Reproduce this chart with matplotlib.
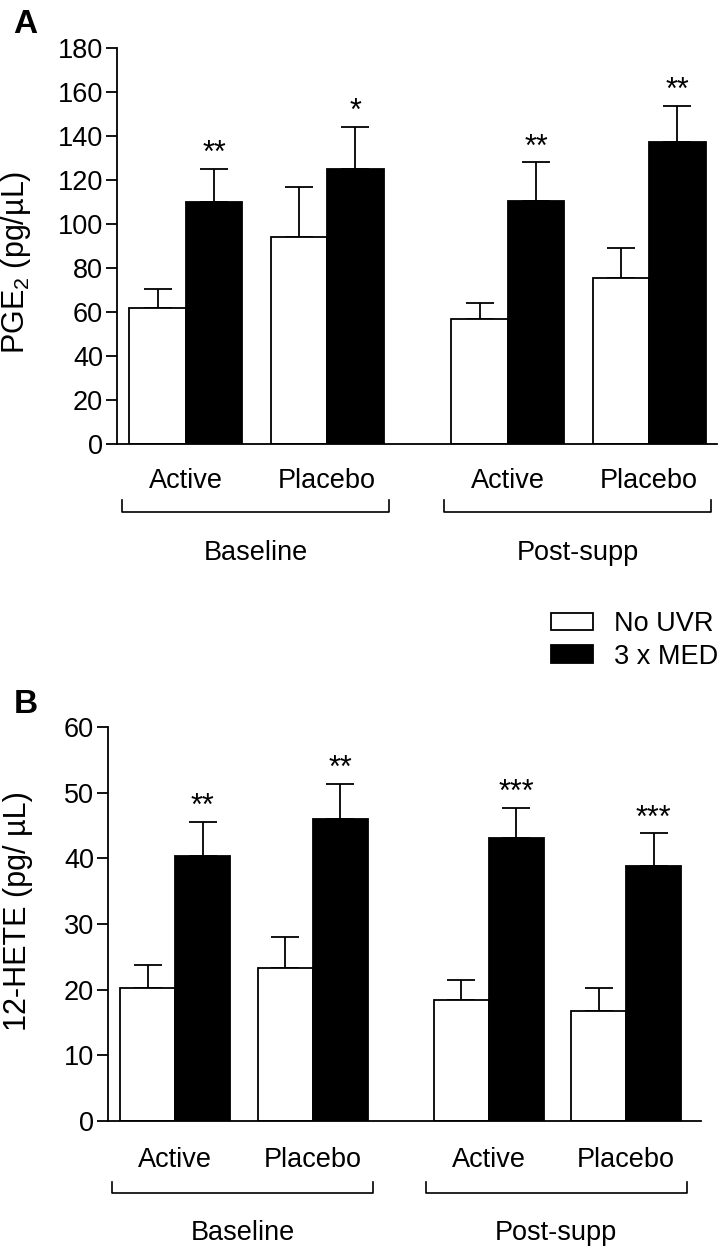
import matplotlib
matplotlib.use("Agg")
import matplotlib.pyplot as plt
import numpy as np
from matplotlib.patches import Patch

plt.rcParams['font.family'] = ['Liberation Sans', 'DejaVu Sans']
plt.rcParams['mathtext.fontset'] = 'custom'
plt.rcParams['mathtext.rm'] = 'Liberation Sans'
plt.rcParams['mathtext.it'] = 'Liberation Sans:italic'

# grupos
treatments = ['Active', 'Placebo', 'Active', 'Placebo']
periods = ['Baseline', 'Post-supp']
series_names = ['No UVR', '3 x MED']

# Panel A - PGE2 (pg/uL): medias y limite superior del error
pge2_no_uvr = [62, 94, 57, 75.5]
pge2_no_uvr_top = [70.5, 117, 64, 89]
pge2_med = [110, 125, 110.5, 137.5]
pge2_med_top = [125, 144, 128, 153.5]
pge2_stars = ['**', '*', '**', '**']

# Panel B - 12-HETE (pg/uL)
hete_no_uvr = [20.2, 23.3, 18.5, 16.7]
hete_no_uvr_top = [23.8, 28, 21.4, 20.2]
hete_med = [40.3, 46, 43.1, 38.9]
hete_med_top = [45.5, 51.3, 47.7, 43.8]
hete_stars = ['**', '**', '***', '***']

fs = 19.5
fig = plt.figure(figsize=(7.25, 12.5), dpi=100)
axA = fig.add_axes([117/725, 1-444/1250, 600/725, 396/1250])
axB = fig.add_axes([108/725, 1-1121/1250, 593/725, 394/1250])

centers = np.array([1.22, 3.72, 6.92, 9.42])
w = 1.0


def panel(ax, white, white_top, black, black_top, stars, ymax, ystep, ylabel, xmax,
          ylab_x, ylab_y, tyl, bty, pty):
    ax.bar(centers - w/2, white, w, color='white', edgecolor='black', linewidth=1.3, zorder=2)
    ax.bar(centers + w/2, black, w, color='black', edgecolor='black', linewidth=1.3, zorder=2)
    up_w = np.array(white_top) - np.array(white)
    up_b = np.array(black_top) - np.array(black)
    ax.errorbar(centers - w/2, white, yerr=[np.zeros(4), up_w], fmt='none',
                ecolor='black', elinewidth=1.3, capsize=10, capthick=1.3, zorder=1)
    ax.errorbar(centers + w/2, black, yerr=[np.zeros(4), up_b], fmt='none',
                ecolor='black', elinewidth=1.3, capsize=10, capthick=1.3, zorder=1)
    for x, t, s in zip(centers + w/2, black_top, stars):
        ax.annotate(s, xy=(x, t), xytext=(0, 5), textcoords='offset points',
                    ha='center', va='baseline', fontsize=22)
    ax.set_xlim(0, xmax)
    ax.set_ylim(0, ymax)
    ax.set_yticks(np.arange(0, ymax + 1, ystep))
    ax.tick_params(axis='y', labelsize=fs, length=8, width=1.3, pad=2)
    ax.set_xticks([])
    for sp in ['top', 'right']:
        ax.spines[sp].set_visible(False)
    for sp in ['left', 'bottom']:
        ax.spines[sp].set_linewidth(1.3)
    ax.set_ylabel(ylabel, fontsize=22)
    ax.yaxis.set_label_coords(ylab_x, ylab_y)
    tr = ax.get_xaxis_transform()
    for x, t in zip(centers, treatments):
        ax.text(x, tyl, t, transform=tr, ha='center', va='baseline', fontsize=fs)
    for i, p in enumerate(periods):
        x0 = centers[2*i] - w - 0.14
        x1 = centers[2*i+1] + w + 0.1
        ax.plot([x0, x0, x1, x1], [bty[0], bty[1], bty[1], bty[0]], transform=tr,
                color='black', lw=1.2, clip_on=False)
        ax.text((x0 + x1)/2, pty, p, transform=tr, ha='center', va='baseline', fontsize=fs)


panel(axA, pge2_no_uvr, pge2_no_uvr_top, pge2_med, pge2_med_top, pge2_stars,
      180, 20, 'PGE$_2$ (pg/µL)', 10.62, -0.14, 0.46, -0.111, (-0.141, -0.172), -0.293)
panel(axB, hete_no_uvr, hete_no_uvr_top, hete_med, hete_med_top, hete_stars,
      60, 10, '12-HETE (pg/ µL)', 10.78, -0.127, 0.533, -0.117, (-0.155, -0.183), -0.302)

fig.text(13/725, 1-33/1250, 'A', fontsize=24, fontweight='bold')
fig.text(14/725, 1-713/1250, 'B', fontsize=24, fontweight='bold')

handles = [Patch(facecolor='white', edgecolor='black', linewidth=1.3),
           Patch(facecolor='black', edgecolor='black', linewidth=1.3)]
fig.legend(handles, series_names, loc='upper left', bbox_to_anchor=(540/725, 1-600/1250),
           frameon=False, fontsize=fs, handlelength=1.55, handleheight=0.6,
           labelspacing=0.25, handletextpad=0.8, borderaxespad=0)

fig.savefig('out.png', dpi=100)
